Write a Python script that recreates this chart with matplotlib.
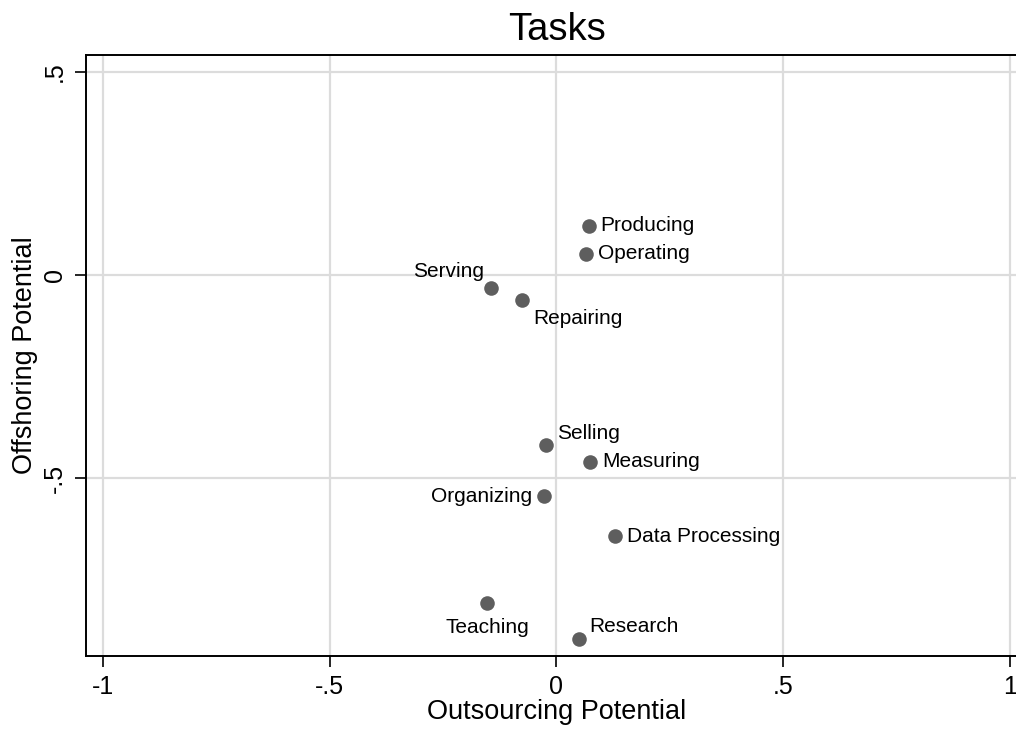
import matplotlib
matplotlib.use("Agg")
import matplotlib.pyplot as plt

plt.rcParams['font.family'] = ['Liberation Sans', 'DejaVu Sans']

# task positions
tasks = ['Producing', 'Operating', 'Serving', 'Repairing', 'Selling',
         'Measuring', 'Organizing', 'Data Processing', 'Teaching', 'Research']
outsourcing = [0.071, 0.066, -0.144, -0.075, -0.022,
               0.075, -0.027, 0.129, -0.152, 0.050]
offshoring = [0.121, 0.053, -0.031, -0.062, -0.419,
              -0.460, -0.545, -0.643, -0.808, -0.895]

# label placement (pixel offset, horizontal alignment), Stata clock style
label_pos = {
    'Producing': ((12, 0), 'left'),
    'Operating': ((12, 0), 'left'),
    'Serving': ((-7, 16), 'right'),
    'Repairing': ((11, -18), 'left'),
    'Selling': ((11, 12), 'left'),
    'Measuring': ((12, 0), 'left'),
    'Organizing': ((-12, 0), 'right'),
    'Data Processing': ((12, 0), 'left'),
    'Teaching': ((0, -24), 'center'),
    'Research': ((10, 12), 'left'),
}

fig = plt.figure(figsize=(10.16, 7.29), dpi=100)
ax = fig.add_axes([86 / 1016, 73 / 729, 942 / 1016, 601 / 729])

ax.scatter(outsourcing, offshoring, s=110, color='#5e5e5e', zorder=3, linewidths=0)
for name, x, y in zip(tasks, outsourcing, offshoring):
    off, ha = label_pos[name]
    ax.annotate(name, (x, y), xytext=off, textcoords='offset pixels',
                ha=ha, va='center', fontsize=15, color='black')

ax.set_xlim(-1.037, 1.04)
ax.set_ylim(-0.938, 0.542)
ax.set_xticks([-1, -0.5, 0, 0.5, 1])
ax.set_xticklabels(['-1', '-.5', '0', '.5', '1'])
ax.set_yticks([-0.5, 0, 0.5])
ax.set_yticklabels(['-.5', '0', '.5'], rotation=90, va='center')
ax.tick_params(axis='both', length=8, width=1.2, labelsize=18, pad=6)
ax.grid(True, color='#dcdcdc', linewidth=1.6)
ax.set_axisbelow(True)
for side in ['left', 'bottom', 'top']:
    ax.spines[side].set_linewidth(1.4)
ax.spines['right'].set_visible(False)

ax.set_xlabel('Outsourcing Potential', fontsize=19.5, va='center')
ax.xaxis.set_label_coords(0.5, -0.0935)
ax.set_ylabel('Offshoring Potential', fontsize=19.5, va='center')
ax.yaxis.set_label_coords(-0.065, 0.5)

fig.text(557 / 1016, 1 - 30 / 729, 'Tasks', ha='center', va='center', fontsize=27.5)

fig.savefig('out.png', dpi=100)
